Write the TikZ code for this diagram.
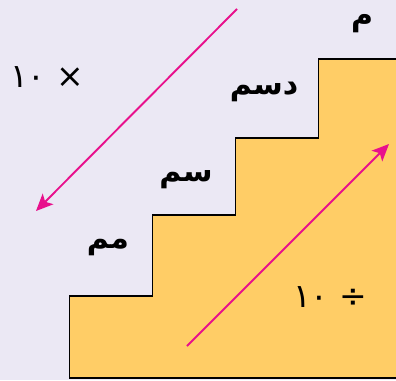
\documentclass[tikz,border=0pt]{standalone}
\usepackage{fontspec}
\usetikzlibrary{arrows.meta}
\newfontfamily\arabicfont[Script=Arabic]{DejaVu Sans}
\TeXXeTstate=1
\definecolor{bgcol}{HTML}{EBE8F4}
\definecolor{stepcol}{HTML}{FFCD66}
\definecolor{arrcol}{HTML}{E8108C}
\begin{document}
\begin{tikzpicture}[x=1pt,y=-1pt,
  lbl/.style={font=\arabicfont\bfseries\fontsize{30}{34}\selectfont, inner sep=0pt},
  num/.style={font=\arabicfont\fontsize{33}{36}\selectfont, inner sep=0pt},
  arr/.style={draw=arrcol, line width=1.9pt, -{Stealth[length=17pt,width=15pt,inset=4pt]}}]
\fill[bgcol] (0,0) rectangle (396,380);
\useasboundingbox (0,0) rectangle (396,380);
\filldraw[fill=stepcol, draw=black, line width=1.5pt]
  (398,378) -- (69.5,378) -- (69.5,296) -- (152.5,296) -- (152.5,215) -- (235.5,215)
  -- (235.5,138) -- (318.5,138) -- (318.5,59) -- (398,59);
\coordinate (a1) at (237,9);
\coordinate (a2) at (36,211);
\coordinate (b1) at (187,346);
\coordinate (b2) at (389,144);
\draw[arr] (a1) -- (a2);
\draw[arr] (b1) -- (b2);
\node[num] (t1) at (47,77) {١٠ ×};
\node[num] (t2) at (330,297) {١٠ ÷};
\node[lbl] (m) at (362,24) {\beginR م\endR};
\node[lbl] (dm) at (264,92) {\beginR دسم\endR};
\node[lbl] (cm) at (186,180) {\beginR سم\endR};
\node[lbl] (mm) at (108,248) {\beginR مم\endR};
\end{tikzpicture}
\end{document}
